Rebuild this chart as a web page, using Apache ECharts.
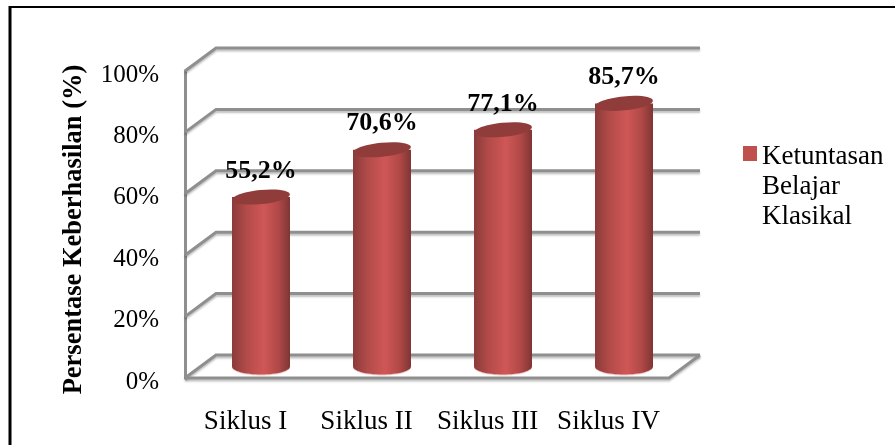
<!DOCTYPE html>
<html>
<head>
<meta charset="utf-8">
<script src="https://cdn.jsdelivr.net/npm/echarts@6/dist/echarts.min.js"></script>
<style>html,body{margin:0;padding:0;background:#fff}#chart{width:895px;height:445px}</style>
</head>
<body>
<div id="chart"></div>
<script>
const categories = ["Siklus I", "Siklus II", "Siklus III", "Siklus IV"];
const persen = [55.2, 70.6, 77.1, 85.7];
const yTicks = [0, 20, 40, 60, 80, 100];
const legendName = "Ketuntasan\nBelajar\nKlasikal";

const FONT = '"Liberation Serif", "Times New Roman", serif';
const DX = 31, DY = -23; // kedalaman 3D
const RX = 29;
const GREY = "#8f8f8f";

const chart = echarts.init(document.getElementById("chart"));

function gridLine(points) {
  return {
    type: "polyline",
    shape: {points: points},
    style: {stroke: GREY, lineWidth: 3, fill: null, shadowColor: "rgba(0,0,0,0.25)", shadowBlur: 2, shadowOffsetY: 2}
  };
}

function wallItem(params, api) {
  const v = api.value(0);
  const y = api.coord([0, v])[1];
  const left = params.coordSys.x, right = left + params.coordSys.width;
  const kids = [gridLine([[left, y], [left + DX, y + DY], [right + DX, y + DY]])];
  if (v === 0) {
    kids.push(gridLine([[left, y], [right, y], [right + DX, y + DY]]));
  }
  return {type: "group", children: kids};
}

function cylinderItem(params, api) {
  const cat = api.value(0), val = api.value(1);
  const top = api.coord([cat, val]), base = api.coord([cat, 0]);
  const cx = top[0] + DX / 2;
  const yTop = top[1] + DY / 2, yBase = base[1] + DY / 2;
  const side = new echarts.graphic.LinearGradient(0, 0, 1, 0, [
    {offset: 0, color: "#8a3b3a"},
    {offset: 0.25, color: "#b24b49"},
    {offset: 0.55, color: "#cf5756"},
    {offset: 0.8, color: "#b04947"},
    {offset: 1, color: "#7f3534"}
  ]);
  return {
    type: "group",
    children: [
      {type: "ellipse", shape: {cx: cx, cy: yBase + 1, rx: RX, ry: 8}, style: {fill: "#eec9c8"}},
      {type: "ellipse", shape: {cx: cx, cy: yBase, rx: RX, ry: 8}, style: {fill: side}},
      {type: "rect", shape: {x: cx - RX, y: yTop, width: RX * 2, height: yBase - yTop}, style: {fill: side}},
      {type: "ellipse", shape: {cx: cx, cy: yTop, rx: RX, ry: 7},
        rotation: 0.1, originX: cx, originY: yTop, style: {fill: "#8f3c3b"}},
      {type: "text", x: cx, y: yTop - 26,
        style: {text: String(val).replace(".", ",") + "%", font: "bold 26px " + FONT, fill: "#000",
          align: "center", verticalAlign: "middle"}}
    ]
  };
}

chart.setOption({
  animation: false,
  backgroundColor: "#fff",
  grid: {left: 185, top: 71, width: 484, height: 307},
  xAxis: {
    type: "category", data: categories,
    axisLine: {show: false}, axisTick: {show: false},
    axisLabel: {interval: 0, hideOverlap: false, margin: 30, color: "#000", fontFamily: FONT, fontSize: 27}
  },
  yAxis: {
    type: "value", min: 0, max: 100, interval: 20,
    name: "Persentase Keberhasilan (%)", nameLocation: "middle", nameGap: 97, nameRotate: 90, nameMoveOverlap: false,
    nameTextStyle: {color: "#000", fontFamily: FONT, fontSize: 26.5, fontWeight: "bold", padding: [0, 10, 0, 0]},
    axisLine: {show: true, lineStyle: {color: GREY, width: 3}}, axisTick: {show: false},
    splitLine: {show: false},
    axisLabel: {margin: 26, color: "#000",
      formatter: function (v) { return "{p|" + v + "%}"; },
      rich: {p: {color: "#000", fontFamily: FONT, fontSize: 25, padding: [8, 0, 0, 0]}}}
  },
  legend: {
    data: [legendName], left: 743, top: 142, padding: 0, orient: "vertical",
    // kotak kecil di baris pertama teks
    icon: "path://M0 0H14V15H0Z M0 82L0 82",
    itemWidth: 14, itemHeight: 82,
    textStyle: {color: "#000", fontFamily: FONT, fontSize: 27, lineHeight: 30}
  },
  graphic: [
    {type: "line", silent: true, shape: {x1: 10, y1: 7, x2: 895, y2: 7}, style: {stroke: "#000", lineWidth: 2}},
    {type: "line", silent: true, shape: {x1: 10, y1: 6, x2: 10, y2: 445}, style: {stroke: "#000", lineWidth: 3}}
  ],
  series: [
    {type: "custom", name: "dinding", silent: true, z: 1,
      renderItem: wallItem, data: yTicks.map(v => [v]), encode: {y: 0}},
    {type: "custom", name: legendName, z: 3, itemStyle: {color: "#c0504d"},
      renderItem: cylinderItem, data: persen.map((v, i) => [i, v]), encode: {x: 0, y: 1}}
  ]
});
</script>
</body>
</html>
